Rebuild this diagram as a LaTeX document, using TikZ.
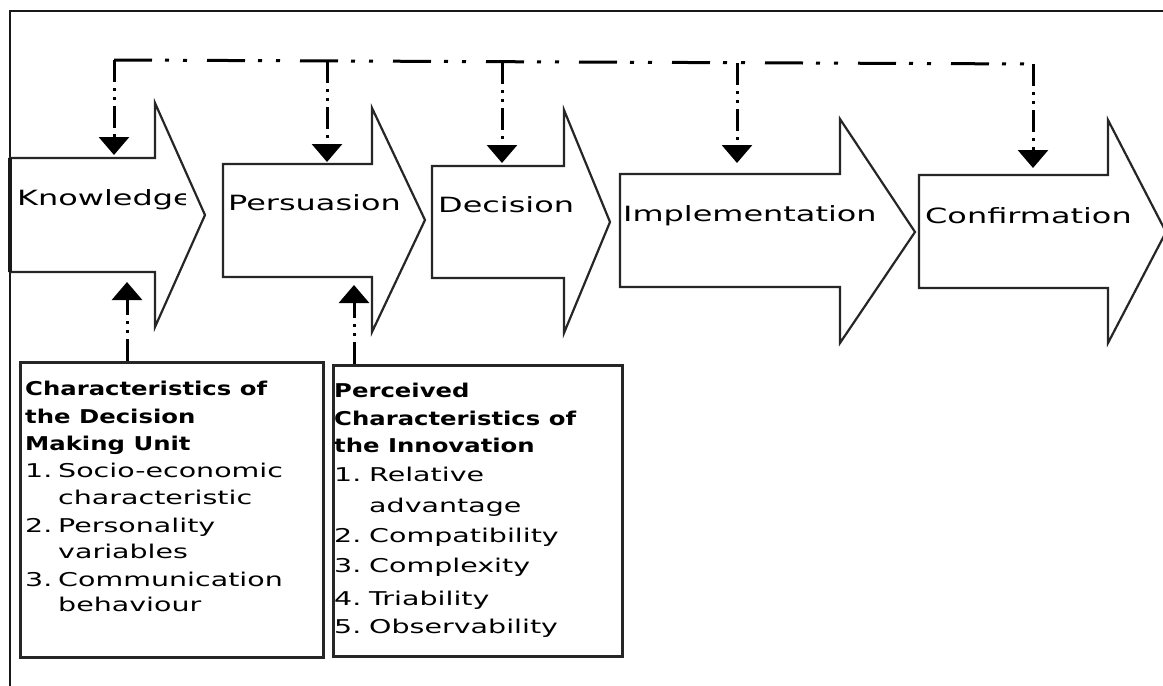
\documentclass[tikz,border=0pt]{standalone}
\usepackage{fontspec}
\usetikzlibrary{arrows.meta}
% wide sans faces for the stage labels and the panel texts
\newfontfamily\lblfont[FakeStretch=1.52]{DejaVu Sans}
\newfontfamily\txtfont[FakeStretch=1.5]{DejaVu Sans}
\newfontfamily\hdfont[FakeStretch=1.28]{DejaVu Sans}

\begin{document}
\begin{tikzpicture}[x=1pt,y=-1pt,
  stage/.style={draw=black!85, line width=2.2pt, fill=white, line join=miter},
  lbl/.style={anchor=base west, inner sep=0pt, text=black,
    font=\lblfont\fontsize{21}{21}\selectfont},
  hd/.style={anchor=base west, inner sep=0pt, text=black,
    font=\hdfont\fontsize{19}{19}\selectfont\bfseries},
  itm/.style={anchor=base west, inner sep=0pt, text=black,
    font=\txtfont\fontsize{19}{19}\selectfont},
  panel/.style={draw=black!85, line width=2.5pt, anchor=north west, inner sep=0pt},
  bus/.style={line width=3pt, dash pattern=on 38pt off 13pt on 4pt off 14pt on 4pt off 20pt},
  feed/.style={line width=3pt, dash pattern=on 22pt off 6pt on 3pt off 6pt on 3pt off 6pt,
    -{Triangle[width=30pt,length=18pt]}}
]
\useasboundingbox (0,0) rectangle (1163,686);
\clip (0,0) rectangle (1163,686);

% outer frame
\draw[line width=2.6pt, black!90] (10,700) -- (10,11) -- (1175,11);

% stage arrows
\draw[stage] (10,158) -- (155,158) -- (155,103) -- (205,215) -- (155,327) -- (155,272) -- (10,272) -- cycle;
\draw[stage] (223,164) -- (372,164) -- (372,108) -- (425,220) -- (372,332) -- (372,277) -- (223,277) -- cycle;
\draw[stage] (432,166) -- (564,166) -- (564,110) -- (610,222) -- (564,333) -- (564,278) -- (432,278) -- cycle;
\draw[stage] (620,174) -- (840,174) -- (840,119) -- (915,232) -- (840,343) -- (840,287) -- (620,287) -- cycle;
\draw[stage] (919,175) -- (1108,175) -- (1108,120) -- (1166,232) -- (1108,343) -- (1108,288) -- (919,288) -- cycle;
\draw[line width=3.2pt, black!90] (10,158) -- (10,272);

% stage labels
\begin{scope}
  \clip (10,150) rectangle (185,270);
  \node[lbl] (know) at (17,205) {Knowledge};
\end{scope}
\node[lbl] (pers) at (228,210) {Persuasion};
\node[lbl] (deci) at (438,212) {Decision};
\node[lbl] (impl) at (623,221) {Implementation};
\node[lbl] (conf) at (925,223) {Confirmation};

% feedback bus over the stages
\coordinate (b1) at (114,60);
\coordinate (b2) at (327,61);
\coordinate (b3) at (502,62);
\coordinate (b4) at (737,63);
\coordinate (b5) at (1033,64);
\coordinate (t1) at (114,155);
\coordinate (t2) at (327,162);
\coordinate (t3) at (502,163);
\coordinate (t4) at (737,163);
\coordinate (t5) at (1033,168);
\draw[bus] (b1) -- (b5);
\draw[feed] (b1) -- (t1);
\draw[feed] (b2) -- (t2);
\draw[feed] (b3) -- (t3);
\draw[feed] (b4) -- (t4);
\draw[feed] (b5) -- (t5);

% panels of influencing characteristics
\node[panel, minimum width=303pt, minimum height=295pt] (dmu) at (19,361) {};
\node[panel, minimum width=289pt, minimum height=291pt] (inno) at (332,364) {};

\coordinate (k1) at (127,282);
\coordinate (k2) at (354,285);
\draw[feed] (dmu.north -| k1) -- (k1);
\draw[feed] (inno.north -| k2) -- (k2);

% texts of the first panel
\node[hd] (d1) at (25,395) {Characteristics of};
\node[hd] (d2) at (25,423) {the Decision};
\node[hd] (d3) at (25,450) {Making Unit};
\node[itm] (dn1) at (25,477) {1.};
\node[itm] (di1) at (58,477) {Socio-economic};
\node[itm] (di1b) at (58,504) {characteristic};
\node[itm] (dn2) at (25,532) {2.};
\node[itm] (di2) at (58,532) {Personality};
\node[itm] (di2b) at (58,558) {variables};
\node[itm] (dn3) at (25,586) {3.};
\node[itm] (di3) at (58,586) {Communication};
\node[itm] (di3b) at (58,611) {behaviour};

% texts of the second panel
\node[hd] (p1) at (334,397) {Perceived};
\node[hd] (p2) at (334,425) {Characteristics of};
\node[hd] (p3) at (334,452) {the Innovation};
\node[itm] (pn1) at (334,481) {1.};
\node[itm] (pi1) at (369,481) {Relative};
\node[itm] (pi1b) at (369,512) {advantage};
\node[itm] (pn2) at (334,542) {2.};
\node[itm] (pi2) at (369,542) {Compatibility};
\node[itm] (pn3) at (334,572) {3.};
\node[itm] (pi3) at (369,572) {Complexity};
\node[itm] (pn4) at (334,605) {4.};
\node[itm] (pi4) at (369,605) {Triability};
\node[itm] (pn5) at (334,633) {5.};
\node[itm] (pi5) at (369,633) {Observability};
\end{tikzpicture}
\end{document}
